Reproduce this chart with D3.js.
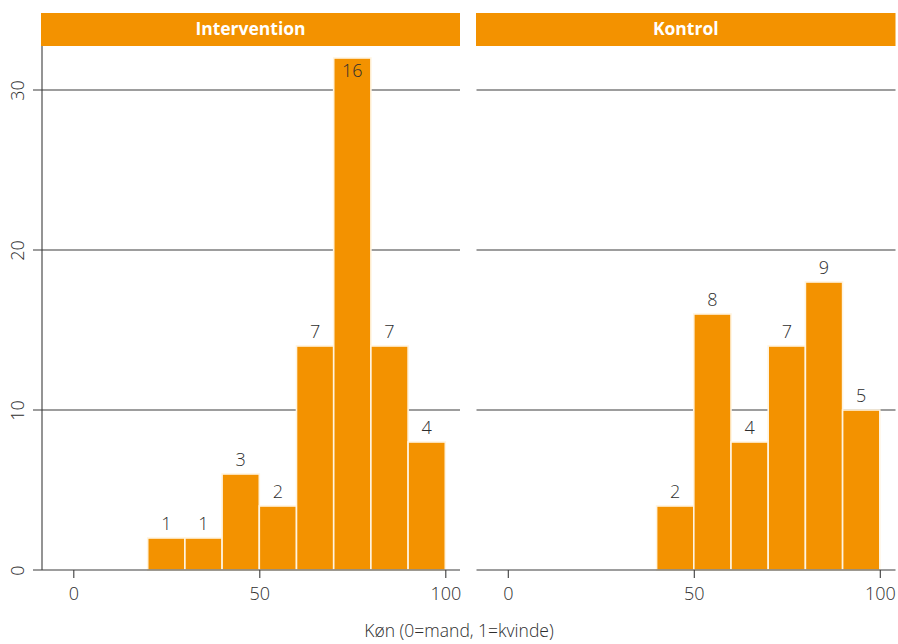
<!DOCTYPE html>
<html>
<head>
<meta charset="utf-8">
<script src="https://cdn.jsdelivr.net/npm/d3@7"></script>
<style>
  html, body { margin: 0; padding: 0; background: #fff; }
  text { font-family: "Open Sans", "DejaVu Sans", sans-serif; }
</style>
</head>
<body>
<svg id="chart" width="898" height="644"></svg>
<script>
// ---- data ----
const panels = ["Intervention", "Kontrol"];
const binStarts = [20, 30, 40, 50, 60, 70, 80, 90];
const binWidth = 10;
const interventionCounts = [1, 1, 3, 2, 7, 16, 7, 4];
const kontrolCounts = [0, 0, 2, 8, 4, 7, 9, 5];
const percentPerCount = 2;
const yTicks = [0, 10, 20, 30];
const xTicks = [0, 50, 100];
const xTitle = "Køn (0=mand, 1=kvinde)";

const seriesByPanel = [interventionCounts, kontrolCounts];

// ---- layout ----
const orange = "#F39200";
const lineCol = "#3c3c3c";
const textCol = "#2e2e2e";
const svg = d3.select("#chart");
const panelBoxes = [
  { left: 42, right: 460, stripLeft: 41, yAxis: true },
  { left: 476.5, right: 895.5, stripLeft: 476, yAxis: false }
];
const plotTop = 46, plotBottom = 570;
const stripTop = 13;

const y = d3.scaleLinear().domain([0, 32.75]).range([plotBottom, plotTop]);

panelBoxes.forEach((pb, i) => {
  const x0 = pb.left + 31.3;
  const x = d3.scaleLinear().domain([0, 100]).range([x0, x0 + 372]);
  const g = svg.append("g");

  // strip
  g.append("rect")
    .attr("x", pb.stripLeft).attr("y", stripTop)
    .attr("width", pb.right - pb.stripLeft).attr("height", plotTop - stripTop)
    .attr("fill", orange);
  g.append("text")
    .attr("x", (pb.stripLeft + pb.right) / 2).attr("y", stripTop + 22)
    .attr("text-anchor", "middle")
    .attr("fill", "#fff").attr("font-weight", "bold").attr("font-size", 17.5)
    .text(panels[i]);

  // gridlines
  g.append("g").selectAll("line").data(yTicks.filter(t => t > 0)).join("line")
    .attr("x1", pb.yAxis ? pb.left - 9 : pb.left).attr("x2", pb.right)
    .attr("y1", d => y(d)).attr("y2", d => y(d))
    .attr("stroke", lineCol).attr("stroke-width", 1.1);

  // bars
  const data = binStarts.map((b, k) => ({ x: b, count: seriesByPanel[i][k] })).filter(d => d.count > 0);
  g.append("g").selectAll("rect").data(data).join("rect")
    .attr("x", d => x(d.x))
    .attr("width", d => x(d.x + binWidth) - x(d.x))
    .attr("y", d => y(d.count * percentPerCount))
    .attr("height", d => y(0) - y(d.count * percentPerCount))
    .attr("fill", orange)
    .attr("stroke", "#fff4e0").attr("stroke-width", 1.6);

  // bar labels
  g.append("g").selectAll("text").data(data).join("text")
    .attr("x", d => x(d.x + binWidth / 2))
    .attr("y", d => {
      const top = y(d.count * percentPerCount);
      return (top - 8 < plotTop + 14) ? top + 19 : top - 8;
    })
    .attr("text-anchor", "middle")
    .attr("fill", textCol).attr("font-size", 18).attr("font-weight", 300)
    .text(d => d.count);

  // x axis
  const xAxis = d3.axisBottom(x).tickValues(xTicks).tickSize(8).tickPadding(9).tickFormat(d3.format("d"));
  const ax = g.append("g").attr("transform", `translate(0,${plotBottom})`).call(xAxis);
  ax.select(".domain").remove();
  ax.selectAll(".tick line").attr("stroke", lineCol).attr("stroke-width", 1.1);
  ax.selectAll(".tick text").attr("font-size", 18).attr("fill", textCol).attr("font-weight", 300)
    .attr("font-family", "'Open Sans', sans-serif");
  g.append("line")
    .attr("x1", pb.yAxis ? pb.left - 9 : pb.left).attr("x2", pb.right)
    .attr("y1", plotBottom).attr("y2", plotBottom)
    .attr("stroke", lineCol).attr("stroke-width", 1.1);

  if (pb.yAxis) {
    g.append("line")
      .attr("x1", pb.left).attr("x2", pb.left)
      .attr("y1", plotTop).attr("y2", plotBottom)
      .attr("stroke", lineCol).attr("stroke-width", 1.1);
    const yAxis = d3.axisLeft(y).tickValues(yTicks).tickSize(0).tickFormat(d3.format("d"));
    const ay = g.append("g").attr("transform", `translate(${pb.left},0)`).call(yAxis);
    ay.select(".domain").remove();
    ay.selectAll(".tick text")
      .attr("font-size", 18).attr("fill", textCol).attr("font-weight", 300)
      .attr("font-family", "'Open Sans', sans-serif")
      .attr("text-anchor", "middle")
      .attr("x", null).attr("y", null)
      .attr("dy", "0.35em")
      .attr("transform", "translate(-24,0) rotate(-90)");
  }
});

// x title
svg.append("text")
  .attr("x", 459).attr("y", 637)
  .attr("text-anchor", "middle")
  .attr("fill", textCol).attr("font-size", 17.5).attr("font-weight", 300)
  .text(xTitle);
</script>
</body>
</html>
